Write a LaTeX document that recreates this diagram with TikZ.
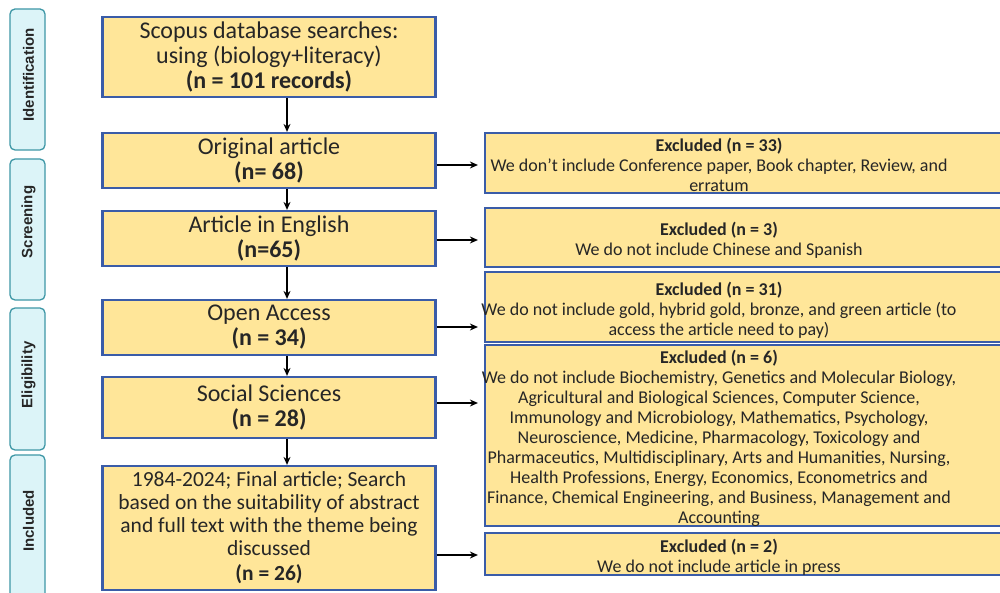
\documentclass[tikz,border=0pt]{standalone}
\usepackage{fontspec}
\setmainfont{Carlito}
\newfontfamily\phasefont{Liberation Sans}
\usetikzlibrary{arrows.meta}
\definecolor{boxfill}{HTML}{FFE699}
\definecolor{boxline}{HTML}{3A5CA8}
\definecolor{phasefill}{HTML}{DCF4F8}
\definecolor{phaseline}{HTML}{3E97A6}
\definecolor{txt}{HTML}{262626}
\newcommand{\extext}[1]{\smash{\raisebox{-8.5pt}{\makebox[0pt]{\hspace{-68pt}\begin{tabular}{@{}c@{}}#1\end{tabular}}}}}
\begin{document}
\begin{tikzpicture}[x=1pt,y=-1pt,
 mainbox/.style={draw=boxline, line width=2.2pt, fill=boxfill, minimum width=333pt, inner sep=0pt, align=center, text=txt, font=\fontsize{24}{25}\selectfont},
 exbox/.style={draw=boxline, line width=2.2pt, fill=boxfill, minimum width=536pt, inner sep=0pt, text=txt, font=\fontsize{18}{20}\selectfont},
 phase/.style={draw=phaseline, line width=1.3pt, fill=phasefill, rounded corners=5pt, minimum width=35pt, inner sep=0pt},
 phasetext/.style={rotate=90, font=\phasefont\bfseries\fontsize{15}{18}\selectfont, text=txt, inner sep=0pt},
 flow/.style={-{Stealth[length=8pt,width=7pt]}, line width=1.8pt}
]
\useasboundingbox (0,0) rectangle (1000,593);
% phase labels
\node[phase, minimum height=141pt] (pid) at (27.5,79.5) {};
\node[phasetext] (tid) at (28.5,75) {Identification};
\node[phase, minimum height=141pt] (psc) at (27.5,229.5) {};
\node[phasetext] (tsc) at (28.5,222) {Screening};
\node[phase, minimum height=142pt] (pel) at (27.5,379) {};
\node[phasetext] (tel) at (28.5,375) {Eligibility};
\node[phase, minimum height=165pt] (pin) at (27.5,537.5) {};
\node[phasetext] (tin) at (28.5,521) {Included};
% main boxes
\node[mainbox, minimum height=80pt] (b1) at (269,57) {Scopus database searches:\\ using (biology+literacy)\\ \textbf{(n = 101 records)}};
\node[mainbox, minimum height=55pt] (b2) at (269,160.5) {Original article\\ \textbf{(n= 68)}};
\node[mainbox, minimum height=55pt] (b3) at (269,238.5) {Article in English\\ \textbf{(n=65)}};
\node[mainbox, minimum height=55pt] (b4) at (269,327.5) {Open Access\\ \textbf{(n = 34)}};
\node[mainbox, minimum height=61pt] (b5) at (269,407.5) {Social Sciences\\ \textbf{(n = 28)}};
\node[mainbox, minimum height=124pt, font=\fontsize{21.5}{23}\selectfont] (b6) at (269,528) {1984-2024; Final article; Search\\ based on the suitability of abstract\\ and full text with the theme being\\ discussed\\[2pt] \textbf{(n = 26)}};
% excluded boxes
\node[exbox, minimum height=60pt] (r1) at (753,163) {\extext{\textbf{Excluded (n = 33)}\\ We don’t include Conference paper, Book chapter, Review, and\\ erratum}};
\node[exbox, minimum height=59pt] (r2) at (753,237.5) {\extext{\textbf{Excluded (n = 3)}\\ We do not include Chinese and Spanish}};
\node[exbox, minimum height=70pt] (r3) at (753,307) {\extext{\textbf{Excluded (n = 31)}\\ We do not include gold, hybrid gold, bronze, and green article (to\\ access the article need to pay)}};
\node[exbox, minimum height=181pt] (r4) at (753,435.5) {\extext{\textbf{Excluded (n = 6)}\\ We do not include Biochemistry, Genetics and Molecular Biology,\\ Agricultural and Biological Sciences, Computer Science,\\ Immunology and Microbiology, Mathematics, Psychology,\\ Neuroscience, Medicine, Pharmacology, Toxicology and\\ Pharmaceutics, Multidisciplinary, Arts and Humanities, Nursing,\\ Health Professions, Energy, Economics, Econometrics and\\ Finance, Chemical Engineering, and Business, Management and\\ Accounting}};
\node[exbox, minimum height=42pt] (r5) at (753,554) {\extext{\textbf{Excluded (n = 2)}\\ We do not include article in press}};
% connectors
\coordinate (ax) at (287,0);
\draw[flow] (b1.south -| ax) -- (b2.north -| ax);
\draw[flow] (b2.south -| ax) -- (b3.north -| ax);
\draw[flow] (b3.south -| ax) -- (b4.north -| ax);
\draw[flow] (b4.south -| ax) -- (b5.north -| ax);
\draw[flow] (b5.south -| ax) -- (b6.north -| ax);
\coordinate (y1) at (0,165);
\coordinate (y2) at (0,240);
\coordinate (y3) at (0,327);
\coordinate (y4) at (0,403);
\coordinate (y5) at (0,555);
\draw[flow, shorten >=6pt] (b2.east |- y1) -- (r1.west |- y1);
\draw[flow, shorten >=6pt] (b3.east |- y2) -- (r2.west |- y2);
\draw[flow, shorten >=6pt] (b4.east |- y3) -- (r3.west |- y3);
\draw[flow, shorten >=6pt] (b5.east |- y4) -- (r4.west |- y4);
\draw[flow, shorten >=6pt] (b6.east |- y5) -- (r5.west |- y5);
\end{tikzpicture}
\end{document}
